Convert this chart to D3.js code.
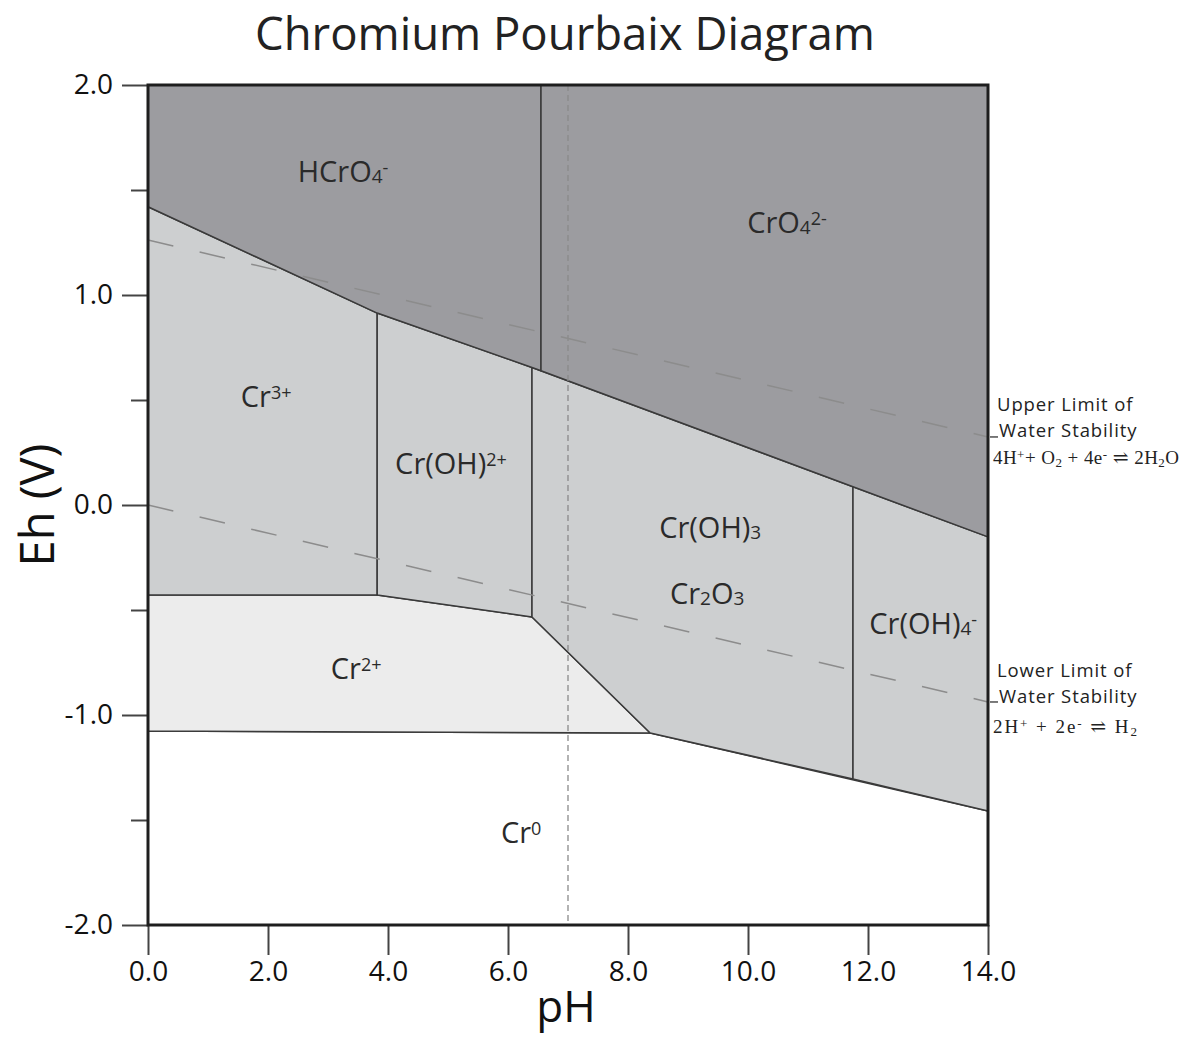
<!DOCTYPE html>
<html>
<head>
<meta charset="utf-8">
<script src="https://cdn.jsdelivr.net/npm/d3@7"></script>
<style>
  body { margin: 0; background: #fff; }
  svg { display: block; font-family: "Open Sans", sans-serif; }
</style>
</head>
<body>
<svg id="chart" width="1185" height="1038"></svg>
<script>
// axis ticks
const phTicks = [0, 2, 4, 6, 8, 10, 12, 14];
const ehMajor = [-2, -1, 0, 1, 2];
const ehMinor = [-1.5, -0.5, 0.5, 1.5];

// stability fields, vertices as [pH, Eh]
const fieldHCrO4 = [[0, 2], [6.55, 2], [6.55, 0.639], [6.4, 0.655], [3.82, 0.914], [0, 1.42]];
const fieldCrO4 = [[6.55, 2], [14, 2], [14, -0.152], [11.75, 0.087], [6.55, 0.639]];
const fieldCr3 = [[0, 1.42], [3.82, 0.914], [3.82, -0.429], [0, -0.429]];
const fieldCrOH2 = [[3.82, 0.914], [6.4, 0.655], [6.4, -0.533], [3.82, -0.429]];
const fieldCrOH3 = [[6.4, 0.655], [11.75, 0.087], [11.75, -1.305], [8.37, -1.086], [6.4, -0.533]];
const fieldCrOH4 = [[11.75, 0.087], [14, -0.152], [14, -1.457], [11.75, -1.305]];
const fieldCr2 = [[0, -0.429], [3.82, -0.429], [6.4, -0.533], [8.37, -1.086], [0, -1.076]];
const fieldCr0 = [[0, -1.076], [8.37, -1.086], [14, -1.457], [14, -2], [0, -2]];

// water stability lines
const waterUpper = [[0, 1.262], [14, 0.324]];
const waterLower = [[0, 0], [14, -0.938]];
const neutralPH = 7;

// label anchors [pH, Eh] and text pieces
const fieldLabels = [
  { at: [3.25, 1.538], parts: [["HCrO", ""], ["4", "sub"], ["-", "sup"]] },
  { at: [10.65, 1.295], parts: [["CrO", ""], ["4", "sub"], ["2-", "sup"]] },
  { at: [1.97, 0.467], parts: [["Cr", ""], ["3+", "sup"]] },
  { at: [5.05, 0.148], parts: [["Cr(OH)", ""], ["2+", "sup"]] },
  { at: [9.37, -0.157], parts: [["Cr(OH)", ""], ["3", "sub"]] },
  { at: [9.32, -0.471], parts: [["Cr", ""], ["2", "sub"], ["O", ""], ["3", "sub"]] },
  { at: [12.92, -0.614], parts: [["Cr(OH)", ""], ["4", "sub"], ["-", "sup"]] },
  { at: [3.47, -0.829], parts: [["Cr", ""], ["2+", "sup"]] },
  { at: [6.22, -1.61], parts: [["Cr", ""], ["0", "sup"]] }
];

const svg = d3.select("#chart");
const x = d3.scaleLinear().domain([0, 14]).range([148, 988]);
const y = d3.scaleLinear().domain([-2, 2]).range([925, 85]);
const line = d3.line().x(d => x(d[0])).y(d => y(d[1]));

// fill the fields
const fields = [
  [fieldCr0, "#ffffff"],
  [fieldCr2, "#ececec"],
  [fieldCr3, "#cdcfd0"],
  [fieldCrOH2, "#cdcfd0"],
  [fieldCrOH3, "#cdcfd0"],
  [fieldCrOH4, "#cdcfd0"],
  [fieldHCrO4, "#9c9ca0"],
  [fieldCrO4, "#9c9ca0"]
];
svg.append("g")
  .selectAll("path")
  .data(fields)
  .join("path")
  .attr("d", d => line(d[0]) + "Z")
  .attr("fill", d => d[1])
  .attr("stroke", "#3a3a3a")
  .attr("stroke-width", 1.5)
  .attr("stroke-linejoin", "round");

// neutral pH line
svg.append("line")
  .attr("x1", x(neutralPH)).attr("x2", x(neutralPH))
  .attr("y1", y(2)).attr("y2", y(-2))
  .attr("stroke", "#8a8a8a")
  .attr("stroke-width", 1.3)
  .attr("stroke-dasharray", "6,4");

// water lines
svg.append("g")
  .selectAll("path")
  .data([waterUpper, waterLower])
  .join("path")
  .attr("d", line)
  .attr("fill", "none")
  .attr("stroke", "#8c8c8c")
  .attr("stroke-width", 1.5)
  .attr("stroke-dasharray", "26,27");

// axes
const minorAxis = svg.append("g")
  .attr("transform", `translate(${x(0)},0)`)
  .call(d3.axisLeft(y).tickValues(ehMinor).tickSize(17).tickFormat(""));
const leftAxis = svg.append("g")
  .attr("transform", `translate(${x(0)},0)`)
  .call(d3.axisLeft(y).tickValues(ehMajor).tickSize(26).tickPadding(9)
    .tickFormat(d => d.toFixed(1)));
const bottomAxis = svg.append("g")
  .attr("transform", `translate(0,${y(-2)})`)
  .call(d3.axisBottom(x).tickValues(phTicks).tickSize(30).tickPadding(6)
    .tickFormat(d => d.toFixed(1)));

[minorAxis, leftAxis, bottomAxis].forEach(a => {
  a.select(".domain").remove();
  a.selectAll(".tick line").attr("stroke", "#444").attr("stroke-width", 2);
  a.selectAll(".tick text")
    .attr("font-family", "'Open Sans', sans-serif")
    .attr("font-size", 28)
    .attr("fill", "#111");
});

// plot border
svg.append("rect")
  .attr("x", x(0)).attr("y", y(2))
  .attr("width", x(14) - x(0)).attr("height", y(-2) - y(2))
  .attr("fill", "none")
  .attr("stroke", "#1e1e1e")
  .attr("stroke-width", 3);

// field labels
const lab = svg.append("g")
  .selectAll("text")
  .data(fieldLabels)
  .join("text")
  .attr("x", d => x(d.at[0]))
  .attr("y", d => y(d.at[1]))
  .attr("text-anchor", "middle")
  .attr("font-size", 29)
  .attr("fill", "#2a2a2a");
lab.each(function(d) {
  const t = d3.select(this);
  d.parts.forEach(p => {
    const s = t.append("tspan").text(p[0]);
    if (p[1] == "sup") s.attr("font-size", 18).attr("baseline-shift", "45%");
    if (p[1] == "sub") s.attr("font-size", 19).attr("baseline-shift", "-4%");
  });
});

// titles
svg.append("text")
  .attr("x", 565).attr("y", 50)
  .attr("text-anchor", "middle")
  .attr("font-size", 45.5)
  .attr("fill", "#222")
  .text("Chromium Pourbaix Diagram");
svg.append("text")
  .attr("x", 566).attr("y", 1022)
  .attr("text-anchor", "middle")
  .attr("font-size", 44)
  .attr("fill", "#111")
  .text("pH");
svg.append("text")
  .attr("transform", `translate(54,${y(0)}) rotate(-90)`)
  .attr("text-anchor", "middle")
  .attr("font-size", 47)
  .attr("fill", "#111")
  .text("Eh (V)");

// water stability notes
function note(eh, title, eq, gaps, eqWidth) {
  const yy = y(eh);
  const g = svg.append("g").attr("fill", "#222");
  g.append("line")
    .attr("x1", x(14) + 2).attr("x2", x(14) + 10)
    .attr("y1", yy).attr("y2", yy)
    .attr("stroke", "#333").attr("stroke-width", 1.3);
  const head = g.append("text")
    .attr("font-size", 18.5)
    .attr("letter-spacing", 0.9);
  head.append("tspan").attr("x", 997).attr("y", yy - gaps[0]).text(title);
  head.append("tspan").attr("x", 999).attr("y", yy + gaps[1]).text("Water Stability");
  const t = g.append("text").attr("x", 993).attr("y", yy + gaps[2])
    .attr("font-family", "'Liberation Serif', 'DejaVu Serif', serif")
    .attr("font-size", 19)
    .attr("textLength", eqWidth).attr("lengthAdjust", "spacing");
  eq.forEach(p => {
    const s = t.append("tspan").text(p[0]);
    if (p[1] == "sup") s.attr("font-size", 13).attr("baseline-shift", "40%");
    if (p[1] == "sub") s.attr("font-size", 13).attr("baseline-shift", "-20%");
  });
}
note(waterUpper[1][1], "Upper Limit of",
  [["4H", ""], ["+", "sup"], ["+ O", ""], ["2", "sub"], [" + 4e", ""], ["-", "sup"], [" \u21CC 2H", ""], ["2", "sub"], ["O", ""]],
  [26, 0, 27], 186);
note(waterLower[1][1], "Lower Limit of",
  [["2H", ""], ["+", "sup"], [" + 2e", ""], ["-", "sup"], [" \u21CC H", ""], ["2", "sub"]],
  [25, 1, 31], 144);
</script>
</body>
</html>
